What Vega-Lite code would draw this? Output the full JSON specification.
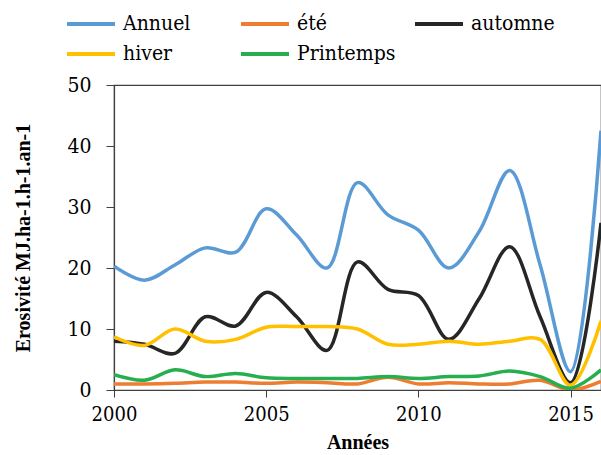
{
  "$schema": "https://vega.github.io/schema/vega-lite/v6.json",
  "width": 487,
  "height": 305,
  "autosize": {"type": "none"},
  "padding": {"left": 114, "top": 85, "right": 0, "bottom": 65},
  "background": "white",
  "config": {
    "view": {"stroke": "#404040", "strokeWidth": 1.2},
    "font": "DejaVu Serif Condensed"
  },
  "data": {
    "values": [
      {"annee": 2000, "serie": "Annuel", "v": 20.3},
      {"annee": 2001, "serie": "Annuel", "v": 18},
      {"annee": 2002, "serie": "Annuel", "v": 20.5},
      {"annee": 2003, "serie": "Annuel", "v": 23.3},
      {"annee": 2004, "serie": "Annuel", "v": 22.6},
      {"annee": 2005, "serie": "Annuel", "v": 29.7},
      {"annee": 2006, "serie": "Annuel", "v": 25.4},
      {"annee": 2007, "serie": "Annuel", "v": 20},
      {"annee": 2008, "serie": "Annuel", "v": 34},
      {"annee": 2009, "serie": "Annuel", "v": 28.7},
      {"annee": 2010, "serie": "Annuel", "v": 26.2},
      {"annee": 2011, "serie": "Annuel", "v": 20},
      {"annee": 2012, "serie": "Annuel", "v": 26},
      {"annee": 2013, "serie": "Annuel", "v": 36},
      {"annee": 2014, "serie": "Annuel", "v": 20.5},
      {"annee": 2015, "serie": "Annuel", "v": 3},
      {"annee": 2016, "serie": "Annuel", "v": 42.5},
      {"annee": 2000, "serie": "été", "v": 1},
      {"annee": 2001, "serie": "été", "v": 1},
      {"annee": 2002, "serie": "été", "v": 1.1},
      {"annee": 2003, "serie": "été", "v": 1.3},
      {"annee": 2004, "serie": "été", "v": 1.3},
      {"annee": 2005, "serie": "été", "v": 1.1},
      {"annee": 2006, "serie": "été", "v": 1.3},
      {"annee": 2007, "serie": "été", "v": 1.2},
      {"annee": 2008, "serie": "été", "v": 1.0},
      {"annee": 2009, "serie": "été", "v": 2.1},
      {"annee": 2010, "serie": "été", "v": 1.0},
      {"annee": 2011, "serie": "été", "v": 1.2},
      {"annee": 2012, "serie": "été", "v": 1.0},
      {"annee": 2013, "serie": "été", "v": 1.0},
      {"annee": 2014, "serie": "été", "v": 1.6},
      {"annee": 2015, "serie": "été", "v": 0},
      {"annee": 2016, "serie": "été", "v": 1.4},
      {"annee": 2000, "serie": "automne", "v": 8},
      {"annee": 2001, "serie": "automne", "v": 7.5},
      {"annee": 2002, "serie": "automne", "v": 6},
      {"annee": 2003, "serie": "automne", "v": 12},
      {"annee": 2004, "serie": "automne", "v": 10.5},
      {"annee": 2005, "serie": "automne", "v": 16},
      {"annee": 2006, "serie": "automne", "v": 12},
      {"annee": 2007, "serie": "automne", "v": 6.5},
      {"annee": 2008, "serie": "automne", "v": 21},
      {"annee": 2009, "serie": "automne", "v": 16.5},
      {"annee": 2010, "serie": "automne", "v": 15.5},
      {"annee": 2011, "serie": "automne", "v": 8.3},
      {"annee": 2012, "serie": "automne", "v": 15},
      {"annee": 2013, "serie": "automne", "v": 23.5},
      {"annee": 2014, "serie": "automne", "v": 12},
      {"annee": 2015, "serie": "automne", "v": 1.2},
      {"annee": 2016, "serie": "automne", "v": 27.4},
      {"annee": 2000, "serie": "hiver", "v": 8.7},
      {"annee": 2001, "serie": "hiver", "v": 7.3},
      {"annee": 2002, "serie": "hiver", "v": 10},
      {"annee": 2003, "serie": "hiver", "v": 8},
      {"annee": 2004, "serie": "hiver", "v": 8.3},
      {"annee": 2005, "serie": "hiver", "v": 10.3},
      {"annee": 2006, "serie": "hiver", "v": 10.4},
      {"annee": 2007, "serie": "hiver", "v": 10.4},
      {"annee": 2008, "serie": "hiver", "v": 10},
      {"annee": 2009, "serie": "hiver", "v": 7.5},
      {"annee": 2010, "serie": "hiver", "v": 7.5},
      {"annee": 2011, "serie": "hiver", "v": 8},
      {"annee": 2012, "serie": "hiver", "v": 7.5},
      {"annee": 2013, "serie": "hiver", "v": 8},
      {"annee": 2014, "serie": "hiver", "v": 8.3},
      {"annee": 2015, "serie": "hiver", "v": 0.8},
      {"annee": 2016, "serie": "hiver", "v": 11.3},
      {"annee": 2000, "serie": "Printemps", "v": 2.5},
      {"annee": 2001, "serie": "Printemps", "v": 1.6},
      {"annee": 2002, "serie": "Printemps", "v": 3.3},
      {"annee": 2003, "serie": "Printemps", "v": 2.2},
      {"annee": 2004, "serie": "Printemps", "v": 2.7},
      {"annee": 2005, "serie": "Printemps", "v": 2},
      {"annee": 2006, "serie": "Printemps", "v": 1.9},
      {"annee": 2007, "serie": "Printemps", "v": 1.9},
      {"annee": 2008, "serie": "Printemps", "v": 1.9},
      {"annee": 2009, "serie": "Printemps", "v": 2.2},
      {"annee": 2010, "serie": "Printemps", "v": 1.9},
      {"annee": 2011, "serie": "Printemps", "v": 2.2},
      {"annee": 2012, "serie": "Printemps", "v": 2.3},
      {"annee": 2013, "serie": "Printemps", "v": 3.1},
      {"annee": 2014, "serie": "Printemps", "v": 2.2},
      {"annee": 2015, "serie": "Printemps", "v": 0.3},
      {"annee": 2016, "serie": "Printemps", "v": 3.3}
    ]
  },
  "mark": {"type": "line", "interpolate": "catmull-rom", "strokeWidth": 3.5, "clip": true},
  "encoding": {
    "x": {
      "field": "annee", "type": "quantitative",
      "scale": {"domain": [2000, 2016], "nice": false, "zero": false},
      "axis": {
        "values": [2000, 2005, 2010, 2015], "format": "d", "grid": false,
        "title": "Années", "titleFont": "Liberation Serif", "titleFontWeight": "bold", "titleFontSize": 20, "titleColor": "black", "titlePadding": 8,
        "labelFont": "DejaVu Serif Condensed", "labelFontSize": 20, "labelColor": "black", "labelPadding": 7,
        "domainColor": "#404040", "tickColor": "#404040", "tickSize": 7, "domainWidth": 1.2, "labelFlush": false, "labelOverlap": false
      }
    },
    "y": {
      "field": "v", "type": "quantitative",
      "scale": {"domain": [0, 50], "nice": false},
      "axis": {
        "values": [0, 10, 20, 30, 40, 50], "grid": false,
        "title": "Erosivité MJ.ha-1.h-1.an-1", "titleFont": "Liberation Serif", "titleFontWeight": "bold", "titleFontSize": 20, "titleColor": "black",
        "titleX": -81, "titleBaseline": "bottom",
        "labelFont": "DejaVu Serif Condensed", "labelFontSize": 21, "labelColor": "black", "labelPadding": 15,
        "domainColor": "#404040", "tickColor": "#404040", "tickSize": 8, "domainWidth": 1.2
      }
    },
    "color": {
      "field": "serie", "type": "nominal",
      "scale": {
        "domain": ["Annuel", "été", "automne", "hiver", "Printemps"],
        "range": ["#5B9BD5", "#ED7D31", "#262626", "#FFC000", "#27AE4F"]
      },
      "legend": {
        "title": null, "orient": "none", "legendX": -49, "legendY": -75,
        "direction": "horizontal", "columns": 3, "gridAlign": "all",
        "symbolType": "M-1,0H3", "symbolSize": 576, "symbolStrokeWidth": 4,
        "labelFont": "DejaVu Serif Condensed", "labelFontSize": 21, "labelColor": "black", "labelOffset": 30,
        "columnPadding": 11, "rowPadding": 6, "labelLimit": 300
      }
    }
  }
}
